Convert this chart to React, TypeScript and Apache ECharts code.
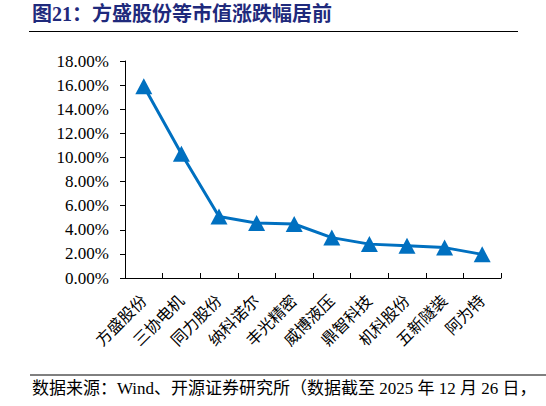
import React, { useEffect, useRef } from "react";
import * as echarts from "echarts";

const categories = ["方盛股份", "三协电机", "同力股份", "纳科诺尔", "丰光精密", "威博液压", "鼎智科技", "机科股份", "五新隧装", "阿为特"];
const changePct = [15.9, 10.3, 5.1, 4.56, 4.48, 3.35, 2.81, 2.67, 2.52, 1.96];
const yTicks = { min: 0, max: 18, interval: 2 };
const titleText = "图21：方盛股份等市值涨跌幅居前";
const sourceText = "数据来源：Wind、开源证券研究所（数据截至 2025 年 12 月 26 日，";

const SERIF = '"Times New Roman", "Liberation Serif", "Noto Sans CJK SC", serif';

export default function App() {
  const ref = useRef<HTMLDivElement>(null);
  useEffect(() => {
    if (!ref.current) return;
    const chart = echarts.init(ref.current, null, { renderer: "svg" });
    chart.setOption({
      animation: false,
      backgroundColor: "#ffffff",
      grid: { left: 125, right: 45, top: 61, bottom: 128, containLabel: false },
      graphic: [
        {
          type: "text",
          left: 32,
          top: 4,
          style: {
            text: titleText,
            font: 'bold 20px "Times New Roman", "Liberation Serif", "Noto Sans CJK SC", serif',
            fill: "#1F2A7C",
          },
        },
        {
          type: "line",
          shape: { x1: 29, y1: 31.5, x2: 518, y2: 31.5 },
          style: { stroke: "#000", lineWidth: 1.2 },
        },
        {
          type: "line",
          shape: { x1: 30, y1: 375, x2: 546, y2: 375 },
          style: { stroke: "#000", lineWidth: 1 },
        },
        {
          type: "text",
          left: 32,
          top: 380,
          style: {
            text: sourceText,
            font: '17px "Times New Roman", "Liberation Serif", "Noto Sans CJK SC", serif',
            fill: "#000",
          },
        },
      ],
      xAxis: {
        type: "category",
        data: categories,
        boundaryGap: true,
        axisLine: { lineStyle: { color: "#000", width: 1 } },
        axisTick: { show: true, inside: true, length: 5, alignWithLabel: false, lineStyle: { color: "#000" } },
        axisLabel: {
          rotate: 45,
          interval: 0,
          margin: 20,
          color: "#000",
          fontSize: 16,
          fontFamily: SERIF,
        },
        splitLine: { show: false },
      },
      yAxis: {
        type: "value",
        min: yTicks.min,
        max: yTicks.max,
        interval: yTicks.interval,
        axisLine: { show: true, lineStyle: { color: "#000", width: 1 } },
        axisTick: { show: true, inside: false, length: 5, lineStyle: { color: "#000" } },
        axisLabel: {
          color: "#000",
          fontSize: 17,
          fontFamily: SERIF,
          margin: 16,
          formatter: (v: number) => v.toFixed(2) + "%",
        },
        splitLine: { show: false },
      },
      series: [
        {
          type: "line",
          data: changePct,
          symbol: "triangle",
          symbolSize: [17, 16],
          lineStyle: { color: "#0070C0", width: 3 },
          itemStyle: { color: "#0070C0" },
        },
      ],
    });
    return () => chart.dispose();
  }, []);
  return <div ref={ref} style={{ width: 546, height: 406, position: "absolute", left: 0, top: 0 }} />;
}
